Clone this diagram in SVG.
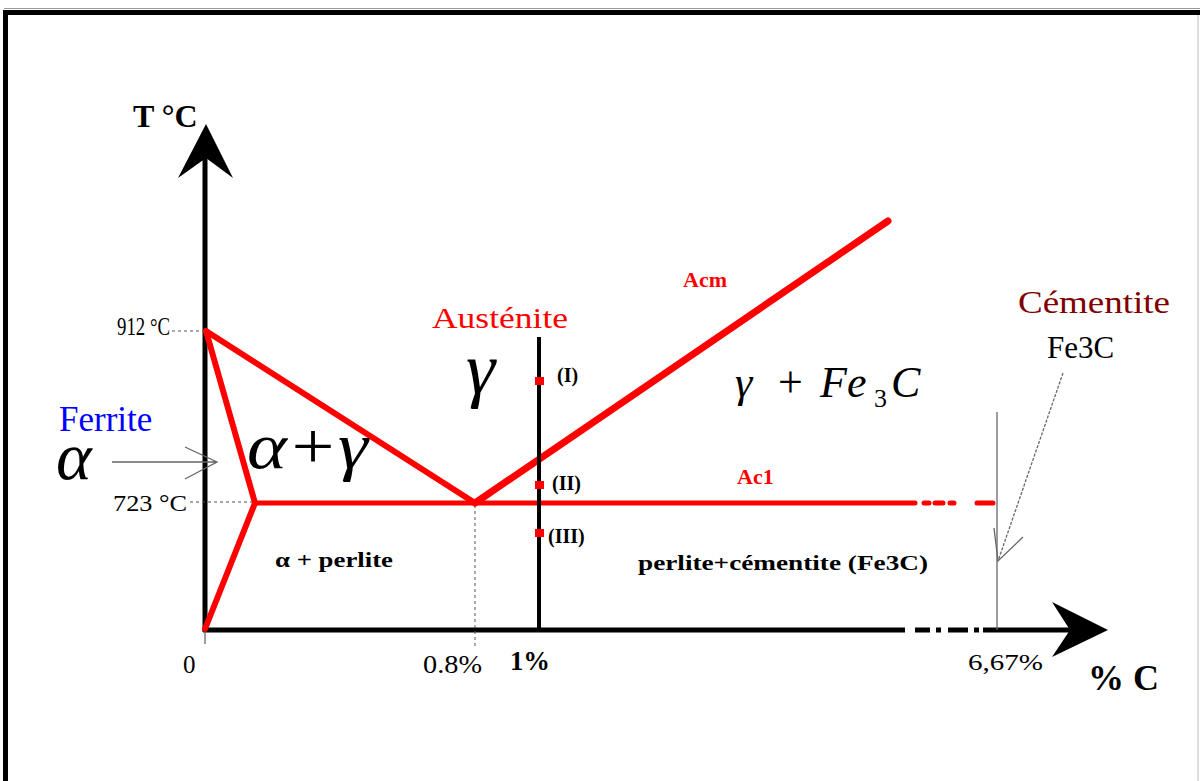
<svg xmlns="http://www.w3.org/2000/svg" width="1200" height="781" viewBox="0 0 1200 781">
<defs>
<style>
text{font-family:"Liberation Serif","Times New Roman",serif;}
.b{font-weight:bold;}
.it{font-style:italic;}
.red{stroke:#ff0000;fill:none;stroke-linecap:round;stroke-linejoin:round;}
.ax{stroke:#000;fill:none;}
.dot{stroke:#555;stroke-width:1;stroke-dasharray:3 3;fill:none;}
.thin{stroke:#666;stroke-width:1.3;fill:none;}
</style>
</defs>
<rect x="0" y="0" width="1200" height="781" fill="#fff"/>
<g id="frame">
<line x1="4" y1="8.5" x2="1200" y2="8.5" stroke="#999" stroke-width="1"/>
<rect x="4" y="10" width="1196" height="5" fill="#000"/>
<rect x="3" y="10" width="5" height="771" fill="#000"/>
<line x1="1198" y1="15" x2="1198" y2="781" stroke="#bbb" stroke-width="1"/>
</g>
<g id="axes">
<line class="ax" x1="205" y1="632" x2="205" y2="150" stroke-width="5"/>
<polygon points="206,124 178,178 206,158 233,178" fill="#000"/>
<line class="ax" x1="203" y1="630" x2="905" y2="630" stroke-width="5"/>
<path class="ax" d="M915,630 H930 M936,630 H941 M948,630 H968 M974,630 H979" stroke-width="5"/>
<line class="ax" x1="983" y1="630" x2="1075" y2="630" stroke-width="5"/>
<polygon points="1108,630 1052,602 1070,630 1052,657" fill="#000"/>
<line class="thin" x1="205" y1="632" x2="205" y2="644"/>
</g>
<g id="connectors">
<line class="dot" x1="172" y1="331" x2="205" y2="331"/>
<line class="dot" x1="190" y1="502" x2="255" y2="502"/>
<line class="dot" x1="475" y1="505" x2="475" y2="646"/>
<line class="red" x1="206" y1="331" x2="475" y2="503" stroke-width="6"/>
<line class="red" x1="206" y1="331" x2="255" y2="503" stroke-width="6"/>
<line class="red" x1="255" y1="503" x2="205" y2="629" stroke-width="6"/>
<line class="red" x1="475" y1="503" x2="888" y2="221" stroke-width="7"/>
<line class="red" x1="255" y1="503" x2="915" y2="503" stroke-width="5" stroke-linecap="butt"/>
<path class="red" d="M924,503 H929 M935,503 H943 M950,503 H954 M977,503 H993" stroke-width="5" stroke-linecap="butt"/>
<line class="ax" x1="539" y1="337" x2="539" y2="632" stroke-width="4"/>
<path class="thin" d="M112,462 H217 M185,447 L217,462 L185,479"/>
<line class="thin" x1="997" y1="412" x2="997" y2="630"/>
<line class="thin" x1="1063" y1="373" x2="998" y2="561" stroke-dasharray="3 1.5"/>
<path class="thin" d="M994,528 L998,561 L1023,537"/>
</g>
<g id="points" fill="#ff0000">
<rect x="535" y="377" width="9" height="8"/>
<rect x="535" y="481" width="9" height="8"/>
<rect x="535" y="529" width="9" height="8"/>
</g>
<g id="labels">
<text x="133" y="127" font-size="32" class="b">T °C</text>
<text x="1088" y="690" font-size="36" class="b">% C</text>
<text x="117" y="335" font-size="25" textLength="53" lengthAdjust="spacingAndGlyphs">912 °C</text>
<text x="113" y="511" font-size="24" textLength="74" lengthAdjust="spacingAndGlyphs">723 °C</text>
<text x="183" y="673" font-size="25">0</text>
<text x="423" y="673" font-size="25" textLength="59" lengthAdjust="spacingAndGlyphs">0.8%</text>
<text x="510" y="670" font-size="28" class="b" textLength="40" lengthAdjust="spacingAndGlyphs">1%</text>
<text x="968" y="670" font-size="24" textLength="75" lengthAdjust="spacingAndGlyphs">6,67%</text>
<text x="59" y="431" font-size="35" fill="#0000ff">Ferrite</text>
<text x="56" y="479" font-size="68" class="it">α</text>
<text x="247" y="468" font-size="66" class="it" textLength="121" lengthAdjust="spacingAndGlyphs">α+γ</text>
<text x="432" y="328" font-size="30" fill="#ff0000" textLength="136" lengthAdjust="spacingAndGlyphs">Austénite</text>
<text x="466" y="393" font-size="74" class="it">γ</text>
<text x="557" y="382" font-size="20" class="b">(I)</text>
<text x="552" y="490" font-size="20" class="b">(II)</text>
<text x="548" y="543" font-size="20" class="b">(III)</text>
<text x="683" y="287" font-size="22" class="b" fill="#ff0000">Acm</text>
<text x="737" y="484" font-size="22" class="b" fill="#ff0000">Ac1</text>
<text x="275" y="567" font-size="21" class="b" textLength="118" lengthAdjust="spacingAndGlyphs">α + perlite</text>
<text x="638" y="570" font-size="21" class="b" textLength="290" lengthAdjust="spacingAndGlyphs">perlite+cémentite (Fe3C)</text>
<text y="397" font-size="44"><tspan x="735" class="it">γ</tspan><tspan x="778">+</tspan><tspan x="820" class="it">Fe</tspan><tspan x="874" y="407" font-size="26">3</tspan><tspan x="891" y="397" class="it">C</tspan></text>
<text x="1018" y="313" font-size="31" fill="#800000" textLength="152" lengthAdjust="spacingAndGlyphs">Cémentite</text>
<text x="1047" y="358" font-size="31">Fe3C</text>
</g>
</svg>
